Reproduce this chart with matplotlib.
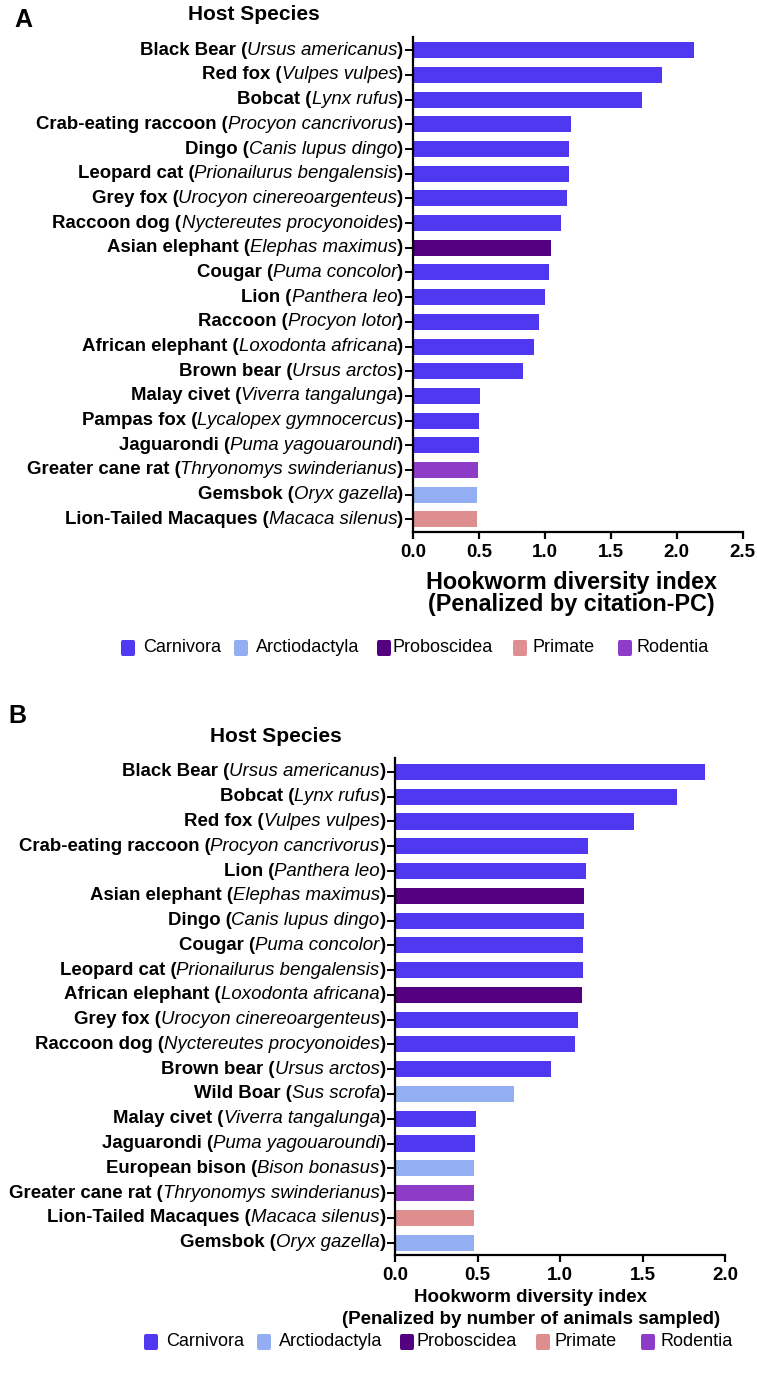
# %% Import libraries required
import numpy as np
import matplotlib
matplotlib.use("Agg")
from matplotlib import pyplot as plt
from matplotlib.offsetbox import TextArea, HPacker, AnnotationBbox
from matplotlib.patches import FancyBboxPatch

plt.rcParams['font.family'] = ['Liberation Sans', 'DejaVu Sans']

# %% Colours per host order
order_colors = {
    'Carnivora': '#5038F0',
    'Arctiodactyla': '#93AEF2',
    'Proboscidea': '#520080',
    'Primate': '#DE8E8E',
    'Rodentia': '#8E3CC8',
}
legend_orders = ['Carnivora', 'Arctiodactyla', 'Proboscidea', 'Primate', 'Rodentia']

# %% Panel A data (penalized by citation-PC)
common_a = ['Black Bear', 'Red fox', 'Bobcat', 'Crab-eating raccoon', 'Dingo',
            'Leopard cat', 'Grey fox', 'Raccoon dog', 'Asian elephant', 'Cougar',
            'Lion', 'Raccoon', 'African elephant', 'Brown bear', 'Malay civet',
            'Pampas fox', 'Jaguarondi', 'Greater cane rat', 'Gemsbok',
            'Lion-Tailed Macaques']
latin_a = ['Ursus americanus', 'Vulpes vulpes', 'Lynx rufus', 'Procyon cancrivorus',
           'Canis lupus dingo', 'Prionailurus bengalensis', 'Urocyon cinereoargenteus',
           'Nyctereutes procyonoides', 'Elephas maximus', 'Puma concolor',
           'Panthera leo', 'Procyon lotor', 'Loxodonta africana', 'Ursus arctos',
           'Viverra tangalunga', 'Lycalopex gymnocercus', 'Puma yagouaroundi',
           'Thryonomys swinderianus', 'Oryx gazella', 'Macaca silenus']
values_a = [2.13, 1.89, 1.74, 1.20, 1.18, 1.18, 1.17, 1.12, 1.05, 1.03,
            1.00, 0.955, 0.915, 0.835, 0.506, 0.503, 0.497, 0.49, 0.487, 0.482]
orders_a = ['Carnivora'] * 8 + ['Proboscidea'] + ['Carnivora'] * 8 + \
           ['Rodentia', 'Arctiodactyla', 'Primate']

# %% Panel B data (penalized by number of animals sampled)
common_b = ['Black Bear', 'Bobcat', 'Red fox', 'Crab-eating raccoon', 'Lion',
            'Asian elephant', 'Dingo', 'Cougar', 'Leopard cat', 'African elephant',
            'Grey fox', 'Raccoon dog', 'Brown bear', 'Wild Boar', 'Malay civet',
            'Jaguarondi', 'European bison', 'Greater cane rat',
            'Lion-Tailed Macaques', 'Gemsbok']
latin_b = ['Ursus americanus', 'Lynx rufus', 'Vulpes vulpes', 'Procyon cancrivorus',
           'Panthera leo', 'Elephas maximus', 'Canis lupus dingo', 'Puma concolor',
           'Prionailurus bengalensis', 'Loxodonta africana', 'Urocyon cinereoargenteus',
           'Nyctereutes procyonoides', 'Ursus arctos', 'Sus scrofa',
           'Viverra tangalunga', 'Puma yagouaroundi', 'Bison bonasus',
           'Thryonomys swinderianus', 'Macaca silenus', 'Oryx gazella']
values_b = [1.88, 1.71, 1.45, 1.17, 1.155, 1.147, 1.143, 1.139, 1.137, 1.133,
            1.107, 1.089, 0.947, 0.722, 0.488, 0.482, 0.48, 0.478, 0.476, 0.476]
orders_b = ['Carnivora'] * 5 + ['Proboscidea'] + ['Carnivora'] * 3 + ['Proboscidea'] + \
           ['Carnivora'] * 3 + ['Arctiodactyla'] + ['Carnivora'] * 2 + \
           ['Arctiodactyla', 'Rodentia', 'Primate', 'Arctiodactyla']

W, H = 757, 1382
fig = plt.figure(figsize=(W / 100, H / 100), dpi=100)


def px(x, y):
    # pixel position (from top-left) -> figure fraction
    return x / W, 1 - y / H


def draw_panel(rect, common, latin, values, orders, xmax):
    ax = fig.add_axes(rect)
    y = np.arange(len(values))
    ax.barh(y, values, height=0.65, color=[order_colors[o] for o in orders],
            edgecolor='none')
    ax.set_ylim(len(values) - 0.5, -0.55)
    ax.set_xlim(0, xmax)
    ticks = np.arange(0, xmax + 0.01, 0.5)
    ax.set_xticks(ticks)
    ax.set_xticklabels(['%.1f' % t for t in ticks], fontsize=13.5, fontweight='bold')
    ax.set_yticks(y)
    ax.set_yticklabels([''] * len(y))
    for s in ['top', 'right']:
        ax.spines[s].set_visible(False)
    for s in ['left', 'bottom']:
        ax.spines[s].set_linewidth(1.6)
    ax.tick_params(axis='x', length=5, width=1.6, pad=4)
    ax.tick_params(axis='y', length=5.5, width=1.4)
    # mixed bold / italic species labels
    for i, (c, l) in enumerate(zip(common, latin)):
        parts = [TextArea(c + ' (', textprops=dict(fontsize=13.4, fontweight='bold')),
                 TextArea(l, textprops=dict(fontsize=13.4, fontstyle='italic')),
                 TextArea(')', textprops=dict(fontsize=13.4, fontweight='bold'))]
        box = HPacker(children=parts, align='baseline', pad=0, sep=0)
        ab = AnnotationBbox(box, (0, i), xycoords=ax.get_yaxis_transform(),
                            xybox=(-9.5, 0), boxcoords='offset pixels',
                            box_alignment=(1, 0.5), frameon=False, pad=0,
                            annotation_clip=False)
        ax.add_artist(ab)
    return ax


def draw_legend(x_sq, x_txt, y):
    for o, xs, xt in zip(legend_orders, x_sq, x_txt):
        fx, fy = px(xs, y + 8)
        fig.patches.append(FancyBboxPatch((fx, fy), 14 / W, 16 / H,
                                          boxstyle='round,pad=0,rounding_size=0.002',
                                          transform=fig.transFigure,
                                          facecolor=order_colors[o], edgecolor='none'))
        tx, ty = px(xt, y)
        fig.text(tx, ty, o, fontsize=13, ha='left', va='center')


# %% Panel A
ax_a = draw_panel([413 / W, 1 - 531.7 / H, 329.7 / W, 495 / H],
                  common_a, latin_a, values_a, orders_a, 2.5)
fig.text(*px(14, 20), 'A', fontsize=18, fontweight='bold', va='center', ha='left')
fig.text(*px(254, 15), 'Host Species', fontsize=15, fontweight='bold', va='center', ha='center')
fig.text(*px(571, 582), 'Hookworm diversity index', fontsize=16.8, fontweight='bold',
         va='center', ha='center')
fig.text(*px(571, 604), '(Penalized by citation-PC)', fontsize=16.8, fontweight='bold',
         va='center', ha='center')
draw_legend([121, 234, 377, 513, 618], [143, 256, 393, 532, 637], 648)

# %% Panel B
ax_b = draw_panel([395.3 / W, 1 - 1255 / H, 329.7 / W, 496.7 / H],
                  common_b, latin_b, values_b, orders_b, 2.0)
fig.text(*px(8, 716), 'B', fontsize=18, fontweight='bold', va='center', ha='left')
fig.text(*px(276, 736), 'Host Species', fontsize=15, fontweight='bold', va='center', ha='center')
fig.text(*px(531, 1297), 'Hookworm diversity index', fontsize=13.5, fontweight='bold',
         va='center', ha='center')
fig.text(*px(531, 1320), '(Penalized by number of animals sampled)', fontsize=13.5,
         fontweight='bold', va='center', ha='center')
draw_legend([144, 257, 400, 536, 641], [166, 279, 416, 555, 660], 1342)

fig.savefig('out.png', dpi=100)
